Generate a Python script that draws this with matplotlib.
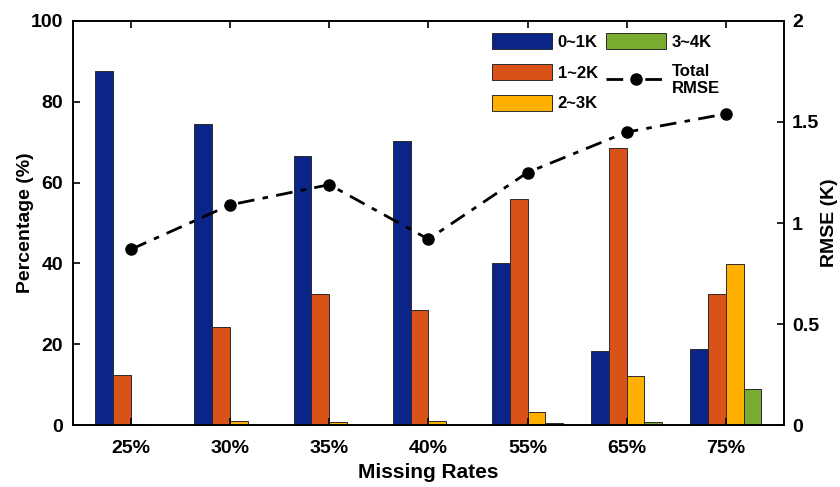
import numpy as np
import matplotlib.pyplot as plt
from matplotlib.ticker import FuncFormatter

plt.rcParams['font.family'] = ['Liberation Sans', 'DejaVu Sans']
plt.rcParams['font.weight'] = 'bold'

rates = ['25%', '30%', '35%', '40%', '55%', '65%', '75%']
pct_0_1 = [87.5, 74.5, 66.6, 70.3, 40.0, 18.4, 18.8]
pct_1_2 = [12.3, 24.3, 32.5, 28.6, 55.9, 68.6, 32.5]
pct_2_3 = [0.2, 1.1, 0.9, 1.1, 3.3, 12.2, 39.8]
pct_3_4 = [0.0, 0.0, 0.0, 0.0, 0.6, 0.8, 8.9]
rmse = [0.87, 1.09, 1.19, 0.92, 1.25, 1.45, 1.54]

series = [pct_0_1, pct_1_2, pct_2_3, pct_3_4]
names = ['0~1K', '1~2K', '2~3K', '3~4K']
colors = ['#0a2487', '#d95319', '#ffb000', '#77ac30']

fig = plt.figure(figsize=(8.4, 4.87), dpi=100)
ax = fig.add_axes([0.087, 0.127, 0.846, 0.830])
ax2 = ax.twinx()

x = np.arange(len(rates))
w = 0.18
handles = []
for i, (vals, c) in enumerate(zip(series, colors)):
    b = ax.bar(x + (i - 1.5) * w, vals, w, color=c, edgecolor='#2a2a2a',
               linewidth=0.7, label=names[i])
    handles.append(b)

line, = ax2.plot(x, rmse, color='black', lw=2.0, marker='o',
                 markersize=8, dashes=[6, 3, 2, 3], label='Total\nRMSE')
handles.append(line)

ax.set_xlim(-0.585, 6.585)
ax.set_ylim(0, 100)
ax2.set_ylim(0, 2)
ax.set_xticks(x)
ax.set_xticklabels(rates)
ax.set_yticks(range(0, 101, 20))
ax2.set_yticks([0, 0.5, 1, 1.5, 2])
ax2.yaxis.set_major_formatter(FuncFormatter(lambda v, p: f'{v:g}'))

for a in (ax, ax2):
    a.tick_params(direction='in', labelsize=14, width=1.2, length=5)
    for s in a.spines.values():
        s.set_linewidth(1.2)
ax.tick_params(top=True)
ax.tick_params(axis='x', pad=11)
ax.tick_params(axis='y', pad=7)
ax2.tick_params(axis='y', pad=6)

ax.set_xlabel('Missing Rates', fontsize=15, fontweight='bold', labelpad=4)
ax.set_ylabel('Percentage (%)', fontsize=14, fontweight='bold', labelpad=-2)
ax2.set_ylabel('RMSE (K)', fontsize=14, fontweight='bold', labelpad=1)

ax.legend(handles, names + ['Total\nRMSE'], ncol=2, frameon=False,
          loc='upper left', bbox_to_anchor=(0.568, 1.007), fontsize=12,
          handlelength=3.6, handleheight=1.1, columnspacing=0.5,
          handletextpad=0.35, labelspacing=0.85)

fig.savefig('out.png', dpi=100)
